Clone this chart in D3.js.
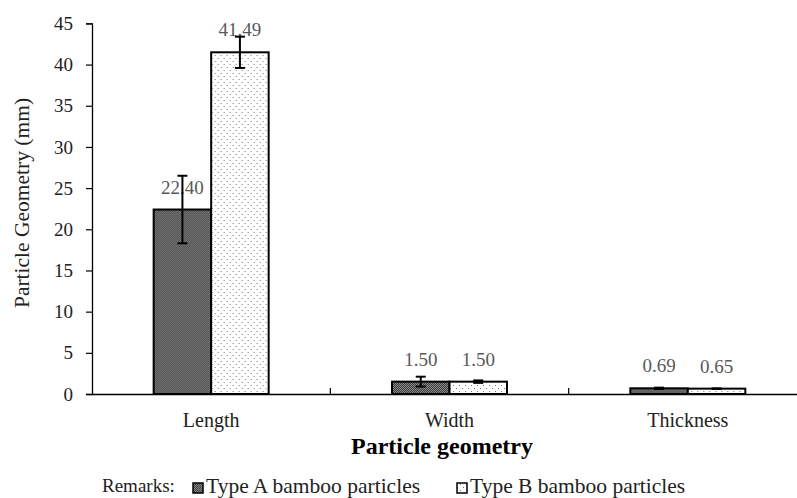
<!DOCTYPE html>
<html>
<head>
<meta charset="utf-8">
<script src="https://cdn.jsdelivr.net/npm/d3@7"></script>
<style>
body{margin:0;background:#fff;}
svg{display:block;}
svg text{font-family:"Liberation Serif","Times New Roman",serif;}
</style>
</head>
<body>
<script>
const categories = ["Length", "Width", "Thickness"];
const seriesNames = ["Type A bamboo particles", "Type B bamboo particles"];
const typeA = [22.40, 1.50, 0.69];
const typeB = [41.49, 1.50, 0.65];
const errA = [4.1, 0.6, 0.08];
const errB = [1.9, 0.15, 0.03];
const yTicks = [0, 5, 10, 15, 20, 25, 30, 35, 40, 45];

const W = 797, H = 498;
const svg = d3.select("body").append("svg").attr("width", W).attr("height", H);

const defs = svg.append("defs");
// checker pattern for type A
let pa = defs.append("pattern").attr("id", "patA").attr("patternUnits", "userSpaceOnUse")
    .attr("width", 2).attr("height", 2);
pa.append("rect").attr("width", 2).attr("height", 2).attr("fill", "#3c3c3c");
pa.append("rect").attr("width", 1).attr("height", 1).attr("fill", "#8a8a8a");
pa.append("rect").attr("x", 1).attr("y", 1).attr("width", 1).attr("height", 1).attr("fill", "#8a8a8a");
// sparse dots for type B
let pb = defs.append("pattern").attr("id", "patB").attr("patternUnits", "userSpaceOnUse")
    .attr("width", 6).attr("height", 6);
pb.append("rect").attr("width", 6).attr("height", 6).attr("fill", "#fff");
pb.append("rect").attr("x", 1).attr("y", 1).attr("width", 1).attr("height", 1).attr("fill", "#777");
pb.append("rect").attr("x", 4).attr("y", 4).attr("width", 1).attr("height", 1).attr("fill", "#777");

const x0 = d3.scaleBand().domain(categories).range([92, 807]).paddingInner(0).paddingOuter(0);
const x1 = d3.scaleBand().domain(seriesNames).range([0, 115]);
const y = d3.scaleLinear().domain([0, 45]).range([394, 23.4]);

// y axis
const yAxis = svg.append("g").attr("transform", "translate(92,0)")
    .call(d3.axisLeft(y).tickValues(yTicks).tickSize(6).tickPadding(13));
yAxis.attr("font-family", null).attr("font-size", 19);
yAxis.select(".domain").attr("stroke", "#000").attr("stroke-width", 1.3);
yAxis.selectAll(".tick line").attr("stroke", "#000").attr("stroke-width", 1.2);
yAxis.selectAll(".tick text").attr("fill", "#222");

// bars
const data = categories.map((c, i) => ({cat: c, vals: [
    {s: seriesNames[0], v: typeA[i], e: errA[i], lab: typeA[i].toFixed(2)},
    {s: seriesNames[1], v: typeB[i], e: errB[i], lab: typeB[i].toFixed(2)}]}));

const groups = svg.selectAll("g.cat").data(data).enter().append("g").attr("class", "cat")
    .attr("transform", d => "translate(" + (x0(d.cat) + x0.bandwidth()/2 - 57.5) + ",0)");

groups.selectAll("rect").data(d => d.vals).enter().append("rect")
    .attr("x", d => x1(d.s))
    .attr("y", d => y(d.v))
    .attr("width", x1.bandwidth())
    .attr("height", d => y(0) - y(d.v))
    .attr("fill", (d, i) => i === 0 ? "url(#patA)" : "url(#patB)")
    .attr("stroke", "#000").attr("stroke-width", 2);

// labels
groups.selectAll("text.val").data(d => d.vals).enter().append("text").attr("class", "val")
    .attr("x", d => x1(d.s) + x1.bandwidth()/2)
    .attr("y", d => y(d.v) - 16)
    .attr("text-anchor", "middle").attr("font-size", 19).attr("fill", "#595959")
    .text(d => d.lab);

// error bars
const eb = groups.selectAll("g.err").data(d => d.vals).enter().append("g").attr("class", "err")
    .attr("stroke", "#000").attr("stroke-width", 2);
eb.append("line")
    .attr("x1", d => x1(d.s) + x1.bandwidth()/2).attr("x2", d => x1(d.s) + x1.bandwidth()/2)
    .attr("y1", d => y(d.v + d.e)).attr("y2", d => y(Math.max(0, d.v - d.e)));
eb.append("line")
    .attr("x1", d => x1(d.s) + x1.bandwidth()/2 - 5).attr("x2", d => x1(d.s) + x1.bandwidth()/2 + 5)
    .attr("y1", d => y(d.v + d.e)).attr("y2", d => y(d.v + d.e));
eb.append("line")
    .attr("x1", d => x1(d.s) + x1.bandwidth()/2 - 5).attr("x2", d => x1(d.s) + x1.bandwidth()/2 + 5)
    .attr("y1", d => y(Math.max(0, d.v - d.e))).attr("y2", d => y(Math.max(0, d.v - d.e)));

// x axis
const xAxis = svg.append("g").attr("transform", "translate(0,394)")
    .call(d3.axisBottom(x0).tickSize(0).tickPadding(19));
xAxis.attr("font-family", null).attr("font-size", 20);
xAxis.select(".domain").attr("stroke", "#000").attr("stroke-width", 1.3);
xAxis.selectAll(".tick text").attr("fill", "#222");
// boundary ticks (upward)
svg.append("g").selectAll("line").data(categories.slice(1)).enter().append("line")
    .attr("x1", d => x0(d)).attr("x2", d => x0(d))
    .attr("y1", 394).attr("y2", 388).attr("stroke", "#000").attr("stroke-width", 1.2);

// axis titles
svg.append("text").attr("x", 442).attr("y", 454).attr("text-anchor", "middle")
    .attr("font-size", 24).attr("font-weight", "bold").attr("fill", "#000")
    .text("Particle geometry");
svg.append("text").attr("transform", "translate(29,203) rotate(-90)").attr("text-anchor", "middle")
    .attr("font-size", 21.5).attr("fill", "#222").text("Particle Geometry (mm)");

// legend
const leg = svg.append("g").attr("font-size", 21.5).attr("fill", "#222");
leg.append("text").attr("x", 102).attr("y", 492).attr("font-size", 19).text("Remarks:");
const legX = [193, 457];
seriesNames.forEach((s, i) => {
    leg.append("rect").attr("x", legX[i]).attr("y", 483).attr("width", 10).attr("height", 10)
        .attr("fill", i === 0 ? "url(#patA)" : "url(#patB)").attr("stroke", "#000").attr("stroke-width", 1.5);
    leg.append("text").attr("x", legX[i] + 13).attr("y", 493).text(s);
});
</script>
</body>
</html>
